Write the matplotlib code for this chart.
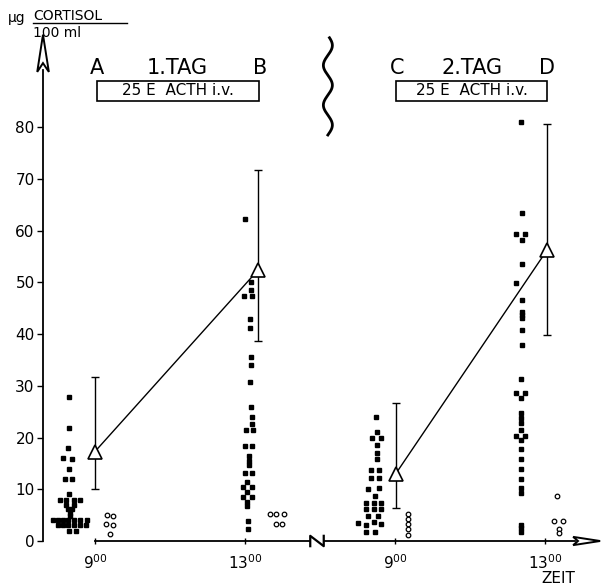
import numpy as np
import matplotlib
matplotlib.use("Agg")
import matplotlib.pyplot as plt
from matplotlib.patches import Polygon, Rectangle

# x values are clock hours on a continuous axis, day 2 shifted by 8 h
d1_9_fill_x = [8.32, 8.32, 8.29, 8.16, 8.40, 8.32, 8.20, 8.40, 8.32, 8.07, 8.24, 8.44, 8.60, 8.23, 8.44, 8.29, 8.38,
               8.33, 8.33, 7.89, 8.02, 8.16, 8.29, 8.44, 8.60, 8.80, 8.02, 8.16, 8.29, 8.44, 8.60, 8.76, 8.32, 8.49]
d1_9_fill_y = [27.8, 21.8, 18.0, 16.1, 15.9, 14.0, 11.9, 11.9, 9.1, 7.9, 7.9, 7.9, 7.9, 7.0, 7.0, 6.2, 6.2,
               5.4, 4.8, 4.0, 4.0, 4.0, 4.0, 4.0, 4.0, 4.0, 3.0, 3.0, 3.0, 3.0, 3.0, 3.0, 1.9, 1.9]
d1_9_open_x = [9.31, 9.49, 9.29, 9.49, 9.40]
d1_9_open_y = [5.1, 4.9, 3.2, 3.0, 1.3]

d1_13_fill_x = [13.00, 13.15, 13.15, 12.98, 13.20, 13.13, 13.13, 13.15, 13.15, 13.13, 13.15, 13.20, 13.20, 13.03,
                13.22, 13.00, 13.20, 13.12, 13.12, 13.12, 13.00, 13.20, 13.06, 12.96, 13.18, 13.06, 12.96, 13.18,
                13.06, 13.06, 13.09, 13.09]
d1_13_fill_y = [62.2, 50.0, 48.5, 47.3, 47.3, 42.9, 41.1, 35.5, 34.0, 30.8, 26.0, 24.0, 22.7, 21.5,
                21.5, 18.3, 18.3, 16.4, 15.5, 14.6, 13.2, 13.2, 11.5, 10.4, 10.4, 9.4, 8.6, 8.6,
                7.6, 6.7, 3.8, 2.4]
d1_13_open_x = [13.67, 13.84, 14.04, 13.83, 14.00]
d1_13_open_y = [5.2, 5.2, 5.2, 3.2, 3.2]

d2_9_fill_x = [16.49, 16.51, 16.38, 16.62, 16.51, 16.53, 16.53, 16.35, 16.58, 16.35, 16.58, 16.29, 16.58, 16.47,
               16.24, 16.44, 16.64, 16.24, 16.44, 16.64, 16.29, 16.56, 16.02, 16.24, 16.44, 16.64, 16.24, 16.47]
d2_9_fill_y = [23.9, 21.0, 19.9, 19.9, 18.6, 17.0, 15.8, 13.7, 13.7, 12.2, 12.2, 10.1, 10.3, 8.7,
               7.4, 7.4, 7.4, 6.1, 6.1, 6.1, 4.8, 4.8, 3.5, 3.1, 3.6, 3.3, 1.8, 1.8]
d2_9_open_x = [17.36, 17.36, 17.36, 17.36, 17.36]
d2_9_open_y = [5.2, 4.3, 3.3, 2.3, 1.2]

d2_13_fill_x = [20.35, 20.38, 20.23, 20.47, 20.38, 20.38, 20.23, 20.38, 20.38, 20.38, 20.38, 20.38, 20.38, 20.35,
                20.23, 20.48, 20.35, 20.35, 20.35, 20.35, 20.35, 20.23, 20.48, 20.35, 20.35, 20.35, 20.35, 20.35,
                20.35, 20.35, 20.35, 20.35, 20.35]
d2_13_fill_y = [81.1, 63.4, 59.4, 59.4, 58.2, 53.5, 49.8, 46.6, 44.3, 43.7, 43.1, 40.8, 37.9, 31.3,
                28.6, 28.6, 27.7, 24.8, 23.7, 22.8, 21.5, 20.3, 20.3, 19.5, 17.7, 15.8, 13.9, 11.9,
                10.2, 9.2, 3.1, 2.5, 1.8]
d2_13_open_x = [21.31, 21.24, 21.49, 21.38, 21.38]
d2_13_open_y = [8.7, 3.9, 3.9, 2.3, 1.5]

mean_x = [9.0, 13.35, 17.02, 21.05]
mean_y = [17.3, 52.4, 13.0, 56.2]
err_hi = [31.8, 71.8, 26.6, 80.7]
err_lo = [10.1, 38.7, 6.3, 39.8]

tick_pos = [9, 13, 17, 21]
tick_labels = ["9$^{\\mathregular{00}}$", "13$^{\\mathregular{00}}$", "9$^{\\mathregular{00}}$", "13$^{\\mathregular{00}}$"]
y_ticks = [0, 10, 20, 30, 40, 50, 60, 70, 80]

fig = plt.figure(figsize=(6.02, 5.86), dpi=100)
ax = fig.add_axes([0, 0, 1, 1])
ax.set_xlim(6.467, 22.52)
ax.set_ylim(-8.70, 104.6)
ax.patch.set_alpha(0)

# axes
ax.spines["top"].set_visible(False)
ax.spines["right"].set_visible(False)
ax.spines["left"].set_position(("data", 7.613))
ax.spines["left"].set_bounds(0, 91)
ax.spines["bottom"].set_position(("data", 0))
ax.spines["bottom"].set_bounds(9, 21.8)
ax.spines["left"].set_linewidth(1.3)
ax.spines["bottom"].set_linewidth(1.3)
ax.set_yticks(y_ticks)
ax.set_yticklabels([str(t) for t in y_ticks], fontsize=11)
ax.set_xticks(tick_pos)
ax.set_xticklabels(tick_labels, fontsize=11)
ax.tick_params(axis="y", direction="out", length=4, width=1, pad=2)
ax.tick_params(axis="x", direction="inout", length=5, width=1, pad=6)

# open arrow heads
ax.add_patch(Polygon([(7.613, 97.9), (7.46, 90.7), (7.613, 92.4), (7.77, 90.7)], closed=True,
                     facecolor="white", edgecolor="black", lw=1.4, zorder=5))
ax.add_patch(Polygon([(22.47, 0), (21.75, 0.8), (21.88, 0), (21.75, -0.8)], closed=True,
                     facecolor="white", edgecolor="black", lw=1.4, zorder=5))

# axis break
ax.add_patch(Rectangle((14.74, -0.5), 0.36, 1.0, facecolor="white", edgecolor="none", zorder=4))
ax.plot([14.74, 14.74, 15.10, 15.10], [-1.0, 1.0, -1.0, 1.0], color="black", lw=1.6, zorder=5)

# day separator
wy = np.linspace(78.5, 97.3, 200)
ax.plot(15.21 + 0.12 * np.sin(2 * np.pi * (wy - 78.5) / 7.7), wy, color="black", lw=2)

# points
for fx, fy in [(d1_9_fill_x, d1_9_fill_y), (d1_13_fill_x, d1_13_fill_y),
               (d2_9_fill_x, d2_9_fill_y), (d2_13_fill_x, d2_13_fill_y)]:
    ax.plot(fx, fy, ls="none", marker="s", ms=3.2, color="black")
for ox, oy in [(d1_9_open_x, d1_9_open_y), (d1_13_open_x, d1_13_open_y),
               (d2_9_open_x, d2_9_open_y), (d2_13_open_x, d2_13_open_y)]:
    ax.plot(ox, oy, ls="none", marker="o", ms=3.3, mfc="white", mec="black", mew=0.9)

# means with ranges
lo = [m - l for m, l in zip(mean_y, err_lo)]
hi = [h - m for m, h in zip(mean_y, err_hi)]
ax.errorbar(mean_x, mean_y, yerr=[lo, hi], fmt="none", ecolor="black", elinewidth=1, capsize=3, capthick=1)
ax.plot(mean_x[0:2], mean_y[0:2], color="black", lw=1)
ax.plot(mean_x[2:4], mean_y[2:4], color="black", lw=1)
ax.plot(mean_x, mean_y, ls="none", marker="^", ms=10, mfc="white", mec="black", mew=1.2, zorder=6)

# headers
for lx, txt in [(9.05, "A"), (11.19, "1.TAG"), (13.4, "B"), (17.05, "C"), (19.05, "2.TAG"), (21.05, "D")]:
    ax.text(lx, 91.5, txt, ha="center", va="center", fontsize=15)
for bx0, bx1, tx in [(9.05, 13.37, 11.21), (17.03, 21.05, 19.04)]:
    ax.add_patch(Rectangle((bx0, 85.1), bx1 - bx0, 3.9, facecolor="white", edgecolor="black", lw=1.2))
    ax.text(tx, 87.05, "25 E  ACTH i.v.", ha="center", va="center", fontsize=11)

# unit label
ax.text(6.69, 101.2, "μg", ha="left", va="center", fontsize=10)
ax.text(7.35, 101.6, "CORTISOL", ha="left", va="center", fontsize=10)
ax.plot([7.35, 9.85], [100.2, 100.2], color="black", lw=1)
ax.text(7.35, 98.2, "100 ml", ha="left", va="center", fontsize=10)

ax.text(21.35, -7.2, "ZEIT", ha="center", va="center", fontsize=11)

fig.savefig("out.png", dpi=100)
